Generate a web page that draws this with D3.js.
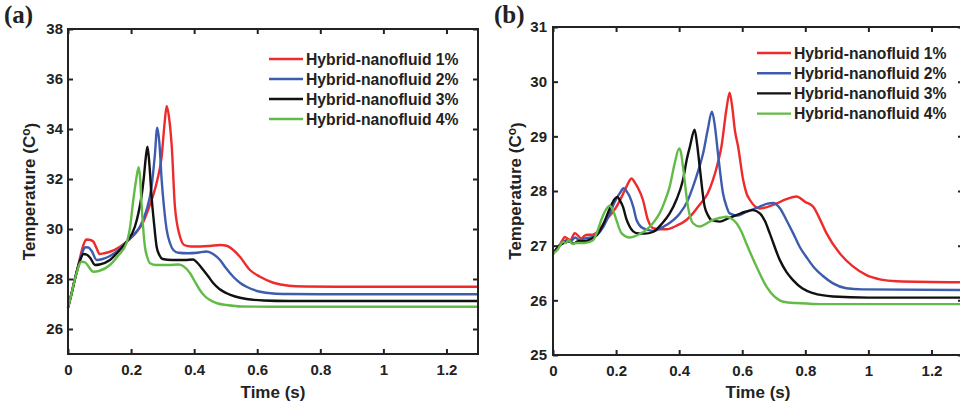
<!DOCTYPE html>
<html>
<head>
<meta charset="utf-8">
<script src="https://cdn.jsdelivr.net/npm/d3@7"></script>
<style>
  html, body { margin: 0; padding: 0; background: #fff; }
  svg { display: block; }
  text { font-family: "Liberation Sans", Arial, sans-serif; font-weight: bold; fill: #222; }
</style>
</head>
<body>
<svg id="fig" width="960" height="407"></svg>
<script>
// ---- Series names and colours ----
const seriesNames = ["Hybrid-nanofluid 1%", "Hybrid-nanofluid 2%", "Hybrid-nanofluid 3%", "Hybrid-nanofluid 4%"];
const seriesColors = ["#ee2b2b", "#3d5cae", "#111111", "#63bb47"];

// ---- Tick values ----
const timeTicks = [0, 0.2, 0.4, 0.6, 0.8, 1, 1.2];
const tempTicksA = [26, 28, 30, 32, 34, 36, 38];
const tempTicksB = [25, 26, 27, 28, 29, 30, 31];

// ---- Panel (a): [time (s), temperature (°C)] ----
const a1 = [[0,26.85],[0.01,27.35],[0.02,27.9],[0.03,28.4],[0.04,28.95],[0.05,29.4],[0.058,29.58],[0.068,29.57],[0.08,29.5],[0.09,29.25],[0.1,29.0],[0.115,29.03],[0.133,29.09],[0.165,29.29],[0.186,29.49],[0.218,29.89],[0.239,30.29],[0.255,30.8],[0.27,31.35],[0.283,31.95],[0.297,32.9],[0.306,34.2],[0.313,34.92],[0.321,34.4],[0.329,33.3],[0.339,30.9],[0.355,29.7],[0.37,29.35],[0.39,29.3],[0.42,29.3],[0.45,29.32],[0.482,29.36],[0.503,29.33],[0.525,29.15],[0.545,28.89],[0.577,28.36],[0.609,28.09],[0.651,27.85],[0.7,27.73],[0.75,27.7],[0.85,27.69],[1.3,27.69]];
const a2 = [[0,26.85],[0.01,27.35],[0.02,27.9],[0.03,28.4],[0.04,28.85],[0.05,29.2],[0.056,29.27],[0.065,29.26],[0.075,29.12],[0.091,28.76],[0.11,28.8],[0.133,28.92],[0.16,29.15],[0.186,29.49],[0.21,29.8],[0.228,30.09],[0.249,30.76],[0.265,31.69],[0.275,32.9],[0.283,34.05],[0.29,33.4],[0.297,31.96],[0.305,30.8],[0.313,29.96],[0.323,29.45],[0.334,29.16],[0.35,29.05],[0.38,29.03],[0.41,29.05],[0.44,29.1],[0.46,29.0],[0.482,28.76],[0.5,28.45],[0.524,28.09],[0.545,27.85],[0.566,27.69],[0.609,27.49],[0.65,27.42],[0.7,27.4],[0.8,27.39],[1.3,27.39]];
const a3 = [[0,26.85],[0.01,27.35],[0.02,27.9],[0.03,28.4],[0.04,28.8],[0.049,29.0],[0.06,28.97],[0.07,28.85],[0.086,28.56],[0.1,28.58],[0.133,28.76],[0.16,29.1],[0.186,29.49],[0.212,30.09],[0.223,30.62],[0.233,31.3],[0.24,32.0],[0.247,32.9],[0.252,33.29],[0.258,32.6],[0.265,31.29],[0.273,30.2],[0.281,29.29],[0.29,28.95],[0.3,28.8],[0.33,28.76],[0.37,28.76],[0.397,28.78],[0.41,28.65],[0.429,28.36],[0.445,28.1],[0.461,27.83],[0.48,27.6],[0.503,27.43],[0.53,27.3],[0.566,27.2],[0.62,27.14],[0.7,27.12],[1.3,27.12]];
const a4 = [[0,26.85],[0.01,27.35],[0.02,27.9],[0.03,28.35],[0.036,28.58],[0.043,28.69],[0.055,28.66],[0.065,28.5],[0.08,28.29],[0.1,28.33],[0.133,28.56],[0.16,28.95],[0.186,29.45],[0.197,30.09],[0.207,31.16],[0.216,31.96],[0.224,32.47],[0.229,32.0],[0.233,31.03],[0.238,30.1],[0.244,29.29],[0.252,28.85],[0.26,28.63],[0.28,28.56],[0.32,28.56],[0.35,28.58],[0.365,28.52],[0.387,28.23],[0.4,27.95],[0.418,27.56],[0.435,27.3],[0.45,27.16],[0.475,27.02],[0.503,26.96],[0.55,26.9],[0.65,26.89],[1.3,26.89]];

// ---- Panel (b): [time (s), temperature (°C)] ----
const b1 = [[0,26.85],[0.01,26.92],[0.02,27.0],[0.03,27.1],[0.037,27.16],[0.048,27.12],[0.055,27.1],[0.069,27.23],[0.08,27.18],[0.09,27.13],[0.1,27.18],[0.111,27.2],[0.125,27.2],[0.14,27.25],[0.169,27.47],[0.201,27.71],[0.22,27.92],[0.233,28.08],[0.249,28.23],[0.26,28.15],[0.27,28.05],[0.285,27.84],[0.301,27.47],[0.317,27.32],[0.34,27.3],[0.36,27.3],[0.39,27.36],[0.423,27.47],[0.445,27.6],[0.465,27.75],[0.49,27.95],[0.507,28.2],[0.522,28.5],[0.534,28.81],[0.55,29.5],[0.56,29.8],[0.568,29.55],[0.577,29.1],[0.587,28.81],[0.603,28.2],[0.614,27.95],[0.624,27.84],[0.655,27.68],[0.7,27.75],[0.74,27.85],[0.772,27.9],[0.8,27.8],[0.825,27.71],[0.845,27.5],[0.867,27.23],[0.909,26.86],[0.951,26.62],[0.994,26.46],[1.04,26.38],[1.089,26.35],[1.3,26.33]];
const b2 = [[0,26.85],[0.02,27.0],[0.035,27.08],[0.045,27.1],[0.055,27.07],[0.07,27.15],[0.085,27.1],[0.1,27.13],[0.12,27.15],[0.14,27.2],[0.16,27.35],[0.18,27.59],[0.2,27.85],[0.212,27.96],[0.224,28.05],[0.235,27.98],[0.243,27.9],[0.255,27.7],[0.265,27.47],[0.285,27.32],[0.317,27.27],[0.36,27.38],[0.402,27.59],[0.425,27.8],[0.444,28.08],[0.462,28.4],[0.476,28.69],[0.49,29.1],[0.504,29.45],[0.513,29.2],[0.523,28.69],[0.539,27.96],[0.55,27.72],[0.56,27.59],[0.585,27.55],[0.613,27.62],[0.65,27.7],[0.68,27.77],[0.698,27.78],[0.72,27.68],[0.74,27.47],[0.762,27.22],[0.782,26.98],[0.805,26.78],[0.825,26.62],[0.855,26.45],[0.888,26.31],[0.93,26.22],[0.98,26.2],[1.3,26.19]];
const b3 = [[0,26.85],[0.02,27.0],[0.035,27.05],[0.05,27.08],[0.065,27.04],[0.08,27.08],[0.1,27.08],[0.12,27.12],[0.14,27.2],[0.16,27.4],[0.18,27.68],[0.195,27.85],[0.204,27.89],[0.213,27.82],[0.222,27.71],[0.232,27.5],[0.243,27.35],[0.265,27.23],[0.29,27.22],[0.317,27.25],[0.345,27.4],[0.37,27.59],[0.392,27.85],[0.412,28.2],[0.425,28.6],[0.434,28.81],[0.449,29.12],[0.457,28.85],[0.465,28.45],[0.481,27.71],[0.492,27.55],[0.502,27.47],[0.529,27.44],[0.555,27.5],[0.582,27.56],[0.61,27.62],[0.634,27.65],[0.656,27.59],[0.672,27.45],[0.687,27.23],[0.719,26.74],[0.74,26.52],[0.761,26.37],[0.79,26.22],[0.825,26.13],[0.888,26.07],[1.0,26.05],[1.3,26.05]];
const b4 = [[0,26.85],[0.015,26.93],[0.032,27.07],[0.04,27.05],[0.05,27.1],[0.062,27.03],[0.075,27.05],[0.1,27.05],[0.127,27.1],[0.14,27.25],[0.153,27.47],[0.167,27.65],[0.18,27.73],[0.19,27.65],[0.201,27.47],[0.217,27.23],[0.243,27.15],[0.27,27.2],[0.296,27.29],[0.318,27.42],[0.338,27.59],[0.355,27.82],[0.37,28.08],[0.386,28.51],[0.4,28.78],[0.406,28.7],[0.412,28.45],[0.428,27.71],[0.444,27.41],[0.465,27.35],[0.485,27.4],[0.507,27.47],[0.53,27.51],[0.55,27.53],[0.567,27.49],[0.582,27.41],[0.598,27.25],[0.613,27.04],[0.645,26.62],[0.677,26.25],[0.7,26.08],[0.719,26.0],[0.745,25.96],[0.772,25.95],[0.85,25.93],[1.3,25.93]];

const svg = d3.select("#fig");
const axisColor = "#222";
const lineWidth = 2.4;

function drawPanel(cfg) {
  const { left, top, width, height, yDomain, yTicks, series, tag, tagX, legendX, legendY, legendStep, yLabelX, yPad } = cfg;
  const g = svg.append("g");
  const x = d3.scaleLinear().domain([0, 1.3]).range([left, left + width]);
  const y = d3.scaleLinear().domain(yDomain).range([top + height, top]);

  // curves
  const line = d3.line().x(d => x(d[0])).y(d => y(d[1])).curve(d3.curveMonotoneX);
  series.forEach((s, i) => {
    g.append("path").datum(s)
      .attr("d", line)
      .attr("fill", "none")
      .attr("stroke", seriesColors[i])
      .attr("stroke-width", lineWidth)
      .attr("stroke-linejoin", "round");
  });

  const fmt = d => String(d);
  // axes on all four sides, ticks pointing inward
  const bottom = g.append("g").attr("transform", `translate(0,${top + height})`)
    .call(d3.axisBottom(x).tickValues(timeTicks).tickFormat(fmt).tickSizeInner(-5).tickSizeOuter(0).tickPadding(10));
  const leftAx = g.append("g").attr("transform", `translate(${left},0)`)
    .call(d3.axisLeft(y).tickValues(yTicks).tickFormat(fmt).tickSizeInner(-5).tickSizeOuter(0).tickPadding(yPad));
  const topAx = g.append("g").attr("transform", `translate(0,${top})`)
    .call(d3.axisTop(x).tickValues(timeTicks).tickFormat("").tickSizeInner(-5).tickSizeOuter(0));
  const rightAx = g.append("g").attr("transform", `translate(${left + width},0)`)
    .call(d3.axisRight(y).tickValues(yTicks).tickFormat("").tickSizeInner(-5).tickSizeOuter(0));
  [bottom, leftAx, topAx, rightAx].forEach(a => {
    a.select(".domain").remove();
    a.selectAll(".tick line").attr("stroke", axisColor).attr("stroke-width", 2);
    a.selectAll(".tick text").attr("fill", axisColor)
      .style("font-family", "'Liberation Sans', Arial, sans-serif")
      .style("font-weight", "bold").style("font-size", "15px");
  });

  // frame
  g.append("rect").attr("x", left).attr("y", top).attr("width", width).attr("height", height)
    .attr("fill", "none").attr("stroke", axisColor).attr("stroke-width", 2);

  // axis titles
  g.append("text").attr("x", left + width / 2).attr("y", 398)
    .attr("text-anchor", "middle").style("font-size", "17px").text("Time (s)");
  const yl = g.append("text")
    .attr("transform", `translate(${yLabelX},${top + height / 2}) rotate(-90)`)
    .attr("text-anchor", "middle").style("font-size", "17px");
  yl.append("tspan").text("Temperature (C");
  yl.append("tspan").attr("dy", "-0.45em").style("font-size", "12px").text("o");
  yl.append("tspan").attr("dy", "0.45em").text(")");

  // panel tag
  g.append("text").attr("x", tagX).attr("y", 23)
    .style("font-family", "'Liberation Serif', 'Times New Roman', serif")
    .style("font-size", "25px").style("font-weight", "bold").attr("fill", "#111").text(tag);

  // legend
  seriesNames.forEach((name, i) => {
    const ly = legendY + i * legendStep;
    g.append("line").attr("x1", legendX).attr("x2", legendX + 34).attr("y1", ly).attr("y2", ly)
      .attr("stroke", seriesColors[i]).attr("stroke-width", lineWidth);
    g.append("text").attr("x", legendX + 37).attr("y", ly + 5.5)
      .style("font-size", "15.7px").text(name);
  });
}

drawPanel({ left: 68, top: 29, width: 410, height: 325, yDomain: [25, 38], yTicks: tempTicksA,
  series: [a1, a2, a3, a4], tag: "(a)", tagX: 4, legendX: 269, legendY: 59, legendStep: 20,
  yLabelX: 35, yPad: 5 });
drawPanel({ left: 553, top: 27, width: 410, height: 328, yDomain: [25, 31], yTicks: tempTicksB,
  series: [b1, b2, b3, b4], tag: "(b)", tagX: 494, legendX: 757, legendY: 53, legendStep: 20.2,
  yLabelX: 521, yPad: 6 });
</script>
</body>
</html>
